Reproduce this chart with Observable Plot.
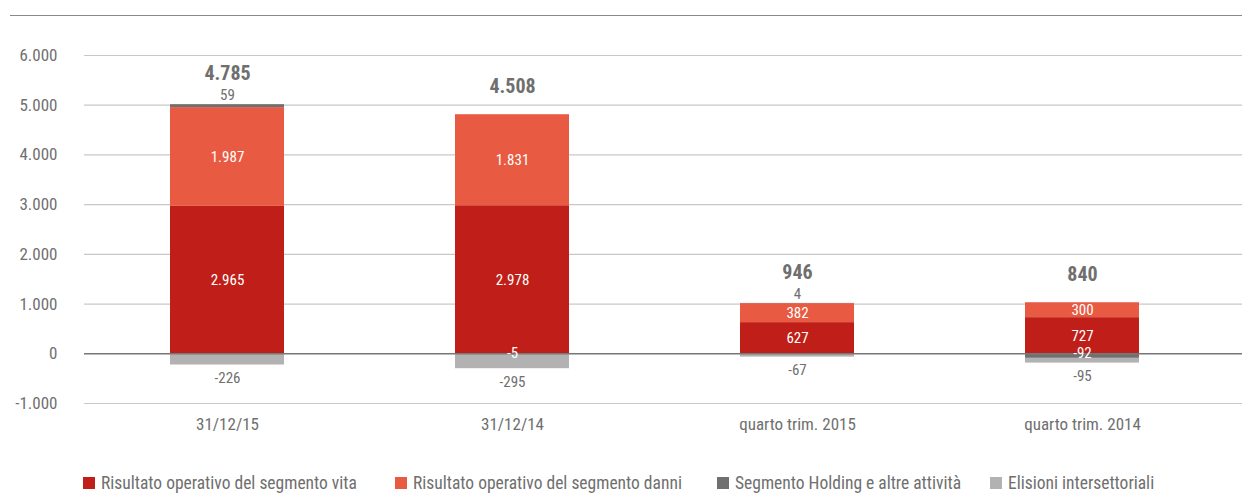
<!DOCTYPE html>
<html>
<head>
<meta charset="utf-8">
<script src="https://cdn.jsdelivr.net/npm/d3@7"></script>
<script src="https://cdn.jsdelivr.net/npm/@observablehq/plot@0.6"></script>
<style>
  html, body { margin: 0; padding: 0; background: #fff; }
  body { width: 1242px; height: 493px; overflow: hidden; position: relative;
         font-family: "Liberation Sans Narrow", "Roboto Condensed", "DejaVu Sans Condensed", sans-serif; color: #6f6f6f; }
  #topline { position: absolute; left: 10px; right: 0; top: 15px; height: 0; border-top: 1.5px solid #8a8a8a; }
  #chart { position: absolute; left: 0; top: 0; }
  #legend { position: absolute; left: 83px; top: 474px; display: flex; font-size: 17.5px; line-height: 18px; white-space: nowrap; }
  .item { display: flex; align-items: center; }
  .sw { width: 12px; height: 12px; margin-right: 6px; flex: none; }
</style>
</head>
<body>
<div id="topline"></div>
<div id="chart"></div>
<div id="legend"></div>
<script>
const categories = ["31/12/15", "31/12/14", "quarto trim. 2015", "quarto trim. 2014"];
const seriesNames = [
  "Risultato operativo del segmento vita",
  "Risultato operativo del segmento danni",
  "Segmento Holding e altre attività",
  "Elisioni intersettoriali"
];
const seriesColors = ["#bf1f18", "#e85b42", "#707070", "#b2b2b2"];
const vita = [2965, 2978, 627, 727];
const danni = [1987, 1831, 382, 300];
const holding = [59, -5, 4, -92];
const elisioni = [-226, -295, -67, -95];
const totals = [4785, 4508, 946, 840];
const yTicks = [-1000, 0, 1000, 2000, 3000, 4000, 5000, 6000];

const itLocale = d3.formatLocale({decimal: ",", thousands: ".", grouping: [3], currency: ["€", ""], minus: "-"});
const fmt = itLocale.format(",d");

const seriesValues = [vita, danni, holding, elisioni];
const long = [];
seriesValues.forEach((vals, si) => {
  vals.forEach((v, ci) => long.push({cat: categories[ci], series: seriesNames[si], si, value: v}));
});
const totalRows = categories.map((c, i) => ({
  cat: c,
  total: totals[i],
  top: [vita[i], danni[i], holding[i], elisioni[i]].filter(v => v > 0).reduce((a, b) => a + b, 0),
  hasHold: holding[i] > 0
}));

const stackOpts = {x: "cat", y: "value", z: "series", order: seriesNames};
const txt = "#6f6f6f";
const fontFam = '"Liberation Sans Narrow", "Roboto Condensed", "DejaVu Sans Condensed", sans-serif';

const plot = Plot.plot({
  width: 1242,
  height: 440,
  marginTop: 55,
  marginBottom: 37,
  marginLeft: 84,
  marginRight: 0,
  style: {fontFamily: fontFam, fontSize: "17px", color: txt, background: "transparent"},
  x: {type: "band", domain: categories, range: [83, 1226], paddingInner: 0.6, paddingOuter: 0.3, label: null},
  y: {domain: [-1000, 6000], label: null},
  color: {domain: seriesNames, range: seriesColors},
  marks: [
    Plot.ruleY(yTicks.filter(d => d !== 0), {stroke: "#c8c8c8", strokeWidth: 1.2}),
    Plot.axisY({ticks: yTicks, tickSize: 0, tickPadding: 27, tickFormat: fmt, fontSize: 17, fill: txt}),
    Plot.axisX({tickSize: 0, tickPadding: 14, fontSize: 17, fill: txt}),
    Plot.barY(long, Plot.stackY({...stackOpts, fill: "series"})),
    Plot.ruleY([0], {stroke: "#777", strokeWidth: 1.5}),
    // labels inside (vita, danni)
    Plot.text(long, Plot.stackY({...stackOpts, text: d => d.si < 2 ? fmt(d.value) : "", fill: "white", fontSize: 15})),
    // positive holding labels above the bar
    Plot.text(long, Plot.stackY2({...stackOpts, text: d => d.si === 2 && d.value > 0 ? fmt(d.value) : "", fill: txt, fontSize: 15, dy: -9})),
    // negative holding labels just above zero, in white
    Plot.text(long, Plot.stackY1({...stackOpts, text: d => d.si === 2 && d.value < 0 ? fmt(d.value) : "", fill: "white", fontSize: 15, dy: -1})),
    // elisioni labels below the bar
    Plot.text(long, Plot.stackY2({...stackOpts, text: d => d.si === 3 ? fmt(d.value) : "", fill: txt, fontSize: 15, dy: 13})),
    // totals
    Plot.text(totalRows.filter(d => d.hasHold), {x: "cat", y: "top", text: d => fmt(d.total), fill: txt, fontSize: 20, fontWeight: "bold", dy: -31}),
    Plot.text(totalRows.filter(d => !d.hasHold), {x: "cat", y: "top", text: d => fmt(d.total), fill: txt, fontSize: 20, fontWeight: "bold", dy: -28})
  ]
});
document.getElementById("chart").appendChild(plot);

const legend = document.getElementById("legend");
const itemWidths = [312, 322, 273, 230];
seriesNames.forEach((name, i) => {
  const it = document.createElement("div");
  it.className = "item";
  it.style.width = itemWidths[i] + "px";
  const sw = document.createElement("span");
  sw.className = "sw";
  sw.style.background = seriesColors[i];
  const lb = document.createElement("span");
  lb.textContent = name;
  it.appendChild(sw);
  it.appendChild(lb);
  legend.appendChild(it);
});
</script>
</body>
</html>
